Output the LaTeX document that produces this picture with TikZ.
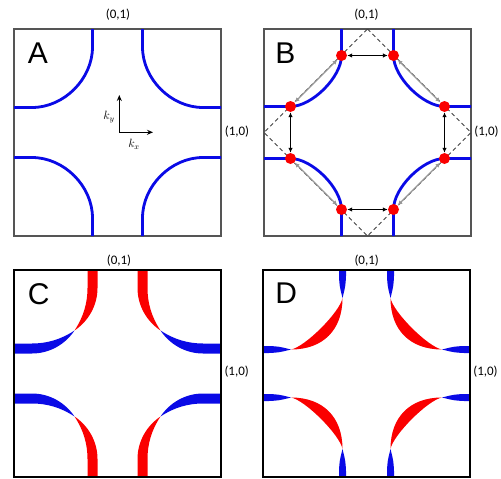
\documentclass[tikz,border=0pt]{standalone}
\usepackage{fontspec}
\setmainfont{Carlito}
\newfontfamily\panelfont{Liberation Sans}
\usetikzlibrary{arrows.meta}
\definecolor{fsblue}{RGB}{10,10,230}
\definecolor{fsred}{RGB}{250,0,0}
\definecolor{framegray}{RGB}{85,85,85}
\definecolor{nestgray}{RGB}{150,150,150}

\begin{document}
\begin{tikzpicture}[
    x=1pt, y=-1pt,
    font=\fontsize{13}{13}\selectfont,
    letter/.style={font=\panelfont\fontsize{30}{30}\selectfont, inner sep=0pt},
    klabel/.style={inner sep=0pt},
    thinframe/.style={draw=framegray, line width=1.3pt},
    boldframe/.style={draw=black, line width=2pt},
    fermi/.style={draw=fsblue, line width=2.8pt},
    hotspot/.style={circle, fill=fsred, minimum size=11pt, inner sep=0pt},
    nest/.style={{Latex[length=5pt,width=4.5pt]}-{Latex[length=5pt,width=4.5pt]}, line width=1.2pt},
    kaxis/.style={-{Stealth[length=6pt,width=5pt]}, line width=1.3pt}
  ]
  \useasboundingbox (0,0) rectangle (501,479);

  % A
  \begin{scope}[shift={(14,29)}]
    \draw[thinframe] (0,0) rectangle (207,207);
    \foreach \sx/\sy in {1/1,-1/1,1/-1,-1/-1}{
      \begin{scope}[shift={(103.5,103.5)}, xscale=\sx, yscale=\sy, shift={(-103.5,-103.5)}]
        \draw[fermi] (78.5,0) -- (78.5,18) .. controls (78.5,50) and (50,78.5) .. (18,78.5) -- (0,78.5);
      \end{scope}
    }
    \node[letter] (labA) at (24,24) {A};
    \node[klabel] (topA) at (104,-14) {(0,1)};
    \node[klabel] (rightA) at (223,103) {(1,0)};
    \coordinate (origin) at (105.3,103.3);
    \coordinate (kytip) at (105.3,66);
    \coordinate (kxtip) at (139,103.3);
    \draw[kaxis] (origin) -- (kytip);
    \draw[kaxis] (origin) -- (kxtip);
    \node[klabel, font=\fontsize{12}{12}\selectfont] (ky) at (95,88.3) {$k_y$};
    \node[klabel, font=\fontsize{12}{12}\selectfont] (kx) at (120,115) {$k_x$};
  \end{scope}

  % B
  \begin{scope}[shift={(264,29)}]
    \draw[thinframe] (0,0) rectangle (207,207);
    \coordinate (dtop) at (103.5,0);
    \coordinate (dright) at (207,103.5);
    \coordinate (dbottom) at (103.5,207);
    \coordinate (dleft) at (0,103.5);
    \draw[line width=0.9pt, black!75, dash pattern=on 4pt off 3pt] (dtop) -- (dright) -- (dbottom) -- (dleft) -- cycle;
    \foreach \sx/\sy in {1/1,-1/1,1/-1,-1/-1}{
      \begin{scope}[shift={(103.5,103.5)}, xscale=\sx, yscale=\sy, shift={(-103.5,-103.5)}]
        \draw[fermi] (77.5,0) -- (77.5,26.5) .. controls (77.5,48) and (48,77.5) .. (26.5,77.5) -- (0,77.5);
      \end{scope}
    }
    \node[hotspot] (b1) at (77.5,26.5) {};
    \node[hotspot] (b2) at (129.5,26.5) {};
    \node[hotspot] (b3) at (180.5,77.5) {};
    \node[hotspot] (b4) at (180.5,129.5) {};
    \node[hotspot] (b5) at (129.5,180.5) {};
    \node[hotspot] (b6) at (77.5,180.5) {};
    \node[hotspot] (b7) at (26.5,129.5) {};
    \node[hotspot] (b8) at (26.5,77.5) {};
    \draw[nest] (b1) -- (b2);
    \draw[nest] (b3) -- (b4);
    \draw[nest] (b5) -- (b6);
    \draw[nest] (b7) -- (b8);
    \draw[nest, nestgray] (b2) -- (b3);
    \draw[nest, nestgray] (b4) -- (b5);
    \draw[nest, nestgray] (b6) -- (b7);
    \draw[nest, nestgray] (b8) -- (b1);
    \node[letter] (labB) at (21.5,24) {B};
    \node[klabel] (topB) at (102.5,-14) {(0,1)};
    \node[klabel] (rightB) at (222.5,103) {(1,0)};
  \end{scope}

  % C
  \begin{scope}[shift={(14,270)}]
    \foreach \sx/\sy in {1/1,-1/1,1/-1,-1/-1}{
      \begin{scope}[shift={(103.5,103.5)}, xscale=\sx, yscale=\sy, shift={(-103.5,-103.5)}]
        \fill[fsred] (73.5,0) -- (73.5,18) .. controls (73.5,33) and (69.5,47) .. (60.5,60.5)
          .. controls (74,51.5) and (83.5,36) .. (83.5,18) -- (83.5,0) -- cycle;
        \fill[fsblue] (0,73.5) -- (18,73.5) .. controls (33,73.5) and (47,69.5) .. (60.5,60.5)
          .. controls (51.5,74) and (36,83.5) .. (18,83.5) -- (0,83.5) -- cycle;
      \end{scope}
    }
    \draw[boldframe] (0,0) rectangle (207,207);
    \node[letter] (labC) at (24.8,23.7) {C};
    \node[klabel] (topC) at (105,-9) {(0,1)};
    \node[klabel] (rightC) at (222.7,102) {(1,0)};
  \end{scope}

  % D
  \begin{scope}[shift={(263,270)}]
    \foreach \sx/\sy in {1/1,-1/1,1/-1,-1/-1}{
      \begin{scope}[shift={(103.5,103.5)}, xscale=\sx, yscale=\sy, shift={(-103.5,-103.5)}]
        \fill[fsblue] (76,0) -- (76,6) .. controls (76.5,16) .. (79.5,28)
          .. controls (82.5,16) .. (83,6) -- (83,0) -- cycle;
        \fill[fsred] (79.5,28) .. controls (79.5,60) and (60,79.5) .. (28,79.5)
          .. controls (42,77) and (77,42) .. (79.5,28) -- cycle;
        \fill[fsblue] (0,76) -- (6,76) .. controls (16,76.5) .. (28,79.5)
          .. controls (16,82.5) .. (6,83) -- (0,83) -- cycle;
      \end{scope}
    }
    \draw[boldframe] (0,0) rectangle (207,207);
    \node[letter] (labD) at (23.3,23.3) {D};
    \node[klabel] (topD) at (103.7,-9) {(0,1)};
    \node[klabel] (rightD) at (222.5,102) {(1,0)};
  \end{scope}
\end{tikzpicture}
\end{document}
